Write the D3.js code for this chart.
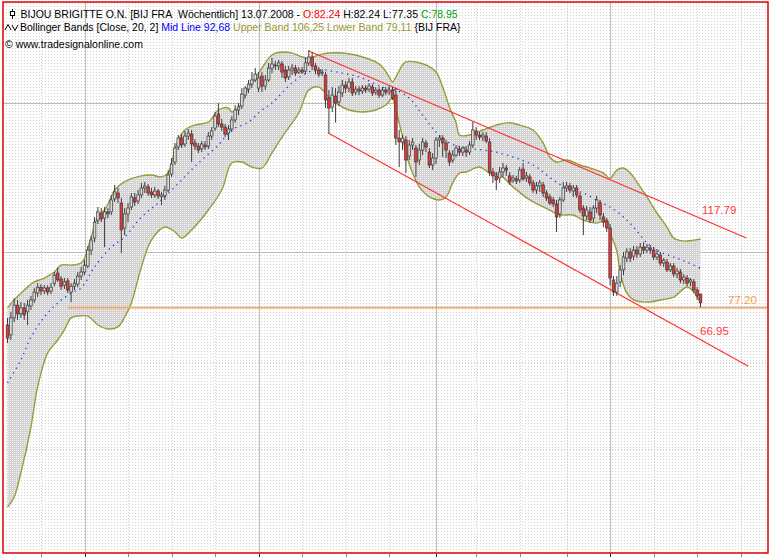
<!DOCTYPE html>
<html><head><meta charset="utf-8">
<script src="https://cdn.jsdelivr.net/npm/d3@7"></script>
<style>html,body{margin:0;padding:0;background:#fff;}svg{display:block}text{white-space:pre}</style>
</head><body>
<svg id="chart" width="770" height="558"></svg>
<script>
// ---------- DATA (weekly bars, BIJOU BRIGITTE, last bar 13.07.2008) ----------
const lastDateStr = "2008-07-13";
const opens = [71.2,68.0,73.6,78.1,75.0,77.1,75.7,77.8,80.0,82.6,
84.9,83.4,84.6,83.4,86.5,90.7,88.2,85.7,87.4,83.0,
85.3,86.1,89.4,91.1,93.7,100.9,106.7,116.0,119.9,117.1,
120.5,120.5,128.0,131.6,125.6,111.8,119.4,123.3,128.6,126.8,
130.4,134.7,135.4,132.2,130.4,132.8,129.2,129.8,133.4,143.7,
152.0,163.0,169.9,165.3,171.5,173.1,166.1,163.7,161.5,164.5,
163.7,171.5,178.0,190.0,181.4,178.8,174.0,177.2,184.8,193.6,
197.2,207.5,213.4,218.4,222.6,214.4,226.7,216.4,222.6,235.3,
238.7,237.6,239.8,233.1,225.8,233.1,235.3,230.9,233.1,232.0,
241.0,247.7,237.6,233.1,229.9,227.8,204.7,196.3,206.5,201.0,
209.5,217.4,214.4,220.5,210.4,213.4,211.4,214.4,213.4,215.4,
210.4,212.4,207.5,212.4,210.4,212.4,207.5,169.9,166.8,168.4,
156.3,164.5,162.2,153.4,160.7,166.1,159.2,149.9,154.8,168.4,
169.9,166.1,158.5,153.4,157.0,161.5,159.2,160.7,159.2,164.5,
175.6,172.3,170.7,171.5,166.8,145.1,142.5,141.1,145.1,147.8,
142.5,139.8,140.5,139.8,147.1,141.1,141.8,137.9,133.4,136.0,
136.6,131.6,129.2,127.4,125.0,119.4,127.4,134.7,136.0,132.8,
134.7,129.8,122.7,118.2,120.5,117.1,122.7,125.6,117.7,115.5,
111.8,87.8,83.0,87.0,92.0,97.2,100.0,98.1,100.9,99.1,
102.3,100.9,101.9,100.9,97.7,98.6,95.0,95.4,92.0,93.7,
90.3,91.1,87.8,88.6,87.0,87.0,83.8,82.24];
const highs = [73.6,75.7,80.7,80.0,79.2,78.9,80.0,81.5,84.6,86.5,
86.1,85.7,85.7,86.5,91.1,92.9,89.4,88.6,88.6,86.5,
88.2,91.1,93.3,96.3,102.8,107.7,117.7,123.3,122.7,123.3,
122.7,130.4,136.6,134.7,128.6,122.7,125.6,131.6,131.6,133.4,
137.9,138.5,137.2,134.7,135.4,134.1,132.2,136.0,146.4,154.8,
166.1,172.3,173.1,175.6,177.2,176.4,169.2,166.1,167.6,167.6,
174.7,178.8,191.9,199.9,185.6,181.4,180.5,188.2,198.1,199.9,
214.4,216.4,222.6,231.0,235.3,231.0,231.0,227.8,240.9,246.6,
243.2,244.3,243.2,237.6,237.6,239.8,238.7,236.4,236.4,246.6,
255.9,253.5,241.0,236.4,234.2,231.0,212.4,215.4,214.4,216.4,
222.6,221.6,224.7,224.7,216.4,216.4,217.4,217.4,219.5,218.4,
215.4,215.4,215.4,215.4,216.4,215.4,214.4,176.4,172.3,171.5,
168.4,169.9,164.5,165.3,169.9,168.4,162.2,158.5,170.7,172.3,
172.3,168.4,160.7,160.7,164.5,163.7,163.7,163.7,167.6,183.1,
178.8,174.7,174.7,174.7,169.9,147.8,145.1,148.5,151.3,149.9,
145.1,143.1,142.5,148.5,151.3,145.1,143.7,139.8,138.5,139.8,
138.5,133.4,130.9,129.2,127.4,129.2,138.5,138.5,137.9,136.6,
136.6,131.6,124.4,123.9,123.3,124.4,129.8,127.4,119.9,117.1,
113.9,89.4,89.4,94.1,100.0,101.8,101.8,102.8,102.8,104.3,
104.7,103.8,103.3,102.3,101.4,100.0,97.2,96.8,95.0,95.0,
92.9,92.4,90.3,89.8,88.6,88.2,84.9,82.24];
const lows = [65.5,66.4,72.2,72.9,73.6,72.9,71.2,76.4,78.9,81.1,
81.8,82.2,81.8,82.2,85.3,87.0,83.8,84.2,82.6,79.2,
83.8,84.9,87.8,89.8,92.8,98.6,104.7,113.9,114.9,102.3,
117.1,118.8,126.2,125.6,99.5,108.2,114.9,121.6,123.9,125.0,
128.6,131.6,129.8,128.6,128.6,128.0,124.4,127.4,132.2,141.8,
149.9,160.7,162.2,163.0,168.4,152.0,160.7,158.5,159.2,160.7,
161.5,168.4,175.6,178.8,175.6,170.7,168.4,174.7,182.5,189.1,
194.5,204.7,209.5,214.4,220.5,210.4,210.4,212.4,220.5,229.9,
233.1,233.1,224.7,220.5,222.6,227.8,226.7,228.8,228.8,228.8,
237.6,233.1,228.8,225.8,226.7,195.4,173.9,191.8,182.5,197.2,
205.6,209.5,210.4,206.5,207.5,207.5,208.5,209.5,210.4,206.5,
207.5,204.7,205.6,207.5,207.5,202.8,164.5,148.5,160.7,144.4,
153.4,160.7,141.8,149.9,157.0,159.2,147.8,146.4,150.6,163.0,
155.6,154.8,149.2,151.3,155.6,156.3,156.3,155.6,157.0,162.2,
168.4,168.4,167.6,166.1,142.5,137.9,133.4,137.9,141.8,142.5,
136.6,137.9,137.2,137.9,139.2,138.5,136.0,131.6,131.0,132.2,
129.2,126.8,124.4,123.3,109.8,117.1,126.2,132.2,131.6,129.2,
128.6,119.9,108.2,116.0,114.4,114.9,119.9,116.0,112.3,109.8,
85.7,81.5,81.5,84.9,89.8,95.4,95.4,96.3,97.2,97.7,
99.1,99.5,99.1,96.3,96.3,93.7,93.3,91.1,91.1,89.0,
88.6,86.5,86.1,85.3,85.3,82.6,80.0,77.35];
const closes = [67.0,73.6,78.1,75.0,77.1,74.6,78.1,80.0,83.0,84.9,
83.4,84.6,83.0,84.9,89.8,87.8,85.3,87.0,83.8,85.3,
86.5,89.4,91.1,94.1,100.9,105.7,114.9,120.5,116.6,120.5,
119.4,127.4,132.2,128.6,110.8,119.4,122.7,129.2,126.2,130.4,
134.7,136.0,131.6,130.4,132.8,129.8,130.4,133.4,143.1,150.6,
162.2,169.9,164.5,171.5,173.9,165.3,163.7,160.7,165.3,163.0,
171.5,175.6,188.2,181.4,178.8,173.1,177.2,184.8,193.6,196.3,
208.5,214.4,218.4,222.6,228.8,224.7,216.4,222.6,235.3,239.8,
237.6,241.0,230.9,224.7,233.1,235.3,229.9,233.1,230.9,241.0,
247.7,237.6,233.1,228.8,230.9,202.8,195.4,207.5,200.0,210.4,
217.4,214.4,220.5,209.5,213.4,211.4,214.4,212.4,216.4,209.5,
212.4,207.5,212.4,210.4,212.4,204.7,169.9,166.8,169.9,153.4,
164.5,166.8,152.0,160.7,166.8,163.0,149.9,154.8,168.4,169.9,
166.1,160.7,152.0,157.0,162.2,159.2,162.2,159.2,164.5,176.4,
172.3,170.7,172.3,167.6,145.1,142.5,139.8,145.1,147.8,146.4,
138.5,141.1,139.2,146.4,140.5,142.5,137.9,133.4,136.0,137.9,
131.6,128.6,125.6,125.0,117.7,127.4,134.7,136.0,133.4,134.7,
130.4,121.6,118.2,121.6,116.0,122.7,127.4,118.8,114.9,111.8,
88.6,83.0,86.5,92.0,97.7,100.0,97.2,100.9,99.1,102.3,
100.9,102.3,100.9,97.7,99.1,95.0,96.3,92.0,93.7,90.3,
91.5,87.8,89.0,86.5,87.8,83.8,81.5,78.95];

// Bollinger bands [bar index, value]
const upperBand = [[0,77.1],[2,80.0],[5,83.8],[8,87.0],[11,88.6],[14,91.1],[16,94.1],[19,94.1],[22,95.0],[23,97.2],[25,107.2],[27,117.7],[29,121.6],[31,129.2],[32,133.4],[36,139.8],[40,142.5],[43,143.1],[46,141.8],[48,144.4],[49,151.3],[51,168.4],[53,176.4],[56,180.5],[60,183.1],[63,193.6],[66,195.4],[67,191.8],[70,199.9],[72,215.4],[73,219.5],[76,235.3],[79,250.0],[82,253.5],[85,252.3],[88,247.7],[90,246.6],[93,250.0],[96,252.3],[100,252.3],[104,250.0],[107,246.6],[110,242.1],[112,236.4],[114,225.8],[115,220.5],[116,225.8],[118,238.7],[119,242.1],[122,242.1],[125,238.7],[128,231.0],[130,215.4],[132,196.3],[134,182.5],[135,172.3],[138,172.3],[142,176.4],[146,180.5],[150,182.5],[154,179.6],[157,176.4],[160,166.1],[162,155.6],[164,152.0],[167,153.4],[171,149.9],[174,147.8],[178,144.4],[180,140.9],[182,146.4],[184,147.8],[186,144.4],[189,135.4],[191,129.2],[194,119.9],[197,112.3],[199,106.7],[202,105.2],[205,105.7],[207,106.25]];
const lowerBand = [[0,30.5],[2,32.0],[4,35.8],[7,44.3],[9,53.4],[12,62.5],[15,66.4],[17,69.6],[19,73.6],[21,74.2],[24,74.2],[27,71.2],[30,69.9],[33,70.6],[35,73.9],[37,78.9],[40,93.3],[43,105.7],[47,112.3],[50,109.8],[52,106.7],[55,110.8],[60,121.6],[64,133.4],[67,151.3],[70,152.0],[73,148.5],[76,147.8],[79,158.5],[82,170.7],[87,190.9],[90,212.4],[93,215.4],[96,205.6],[99,198.1],[102,193.6],[106,191.8],[110,193.6],[113,198.1],[115,204.7],[116,193.6],[118,170.7],[119,158.5],[121,144.4],[123,135.4],[126,129.2],[129,127.4],[131,129.2],[133,137.9],[135,144.4],[137,145.1],[141,148.5],[144,144.4],[147,143.1],[151,135.4],[156,127.4],[160,123.3],[163,120.5],[165,118.8],[169,118.8],[172,116.0],[176,114.4],[179,116.0],[180,109.3],[182,100.5],[183,90.7],[185,82.6],[187,80.0],[191,79.2],[195,80.0],[199,81.1],[203,85.0],[205,83.0],[207,79.11]];
const midLine = [[0,54.4],[4,60.5],[7,67.3],[11,73.9],[15,78.9],[19,82.6],[22,84.6],[26,93.3],[31,102.3],[35,107.2],[40,117.7],[45,125.6],[50,135.4],[54,144.4],[58,153.4],[63,164.5],[67,176.4],[72,183.1],[76,193.6],[79,199.9],[85,219.5],[90,231.0],[94,233.1],[100,229.9],[106,224.7],[112,215.4],[116,212.4],[120,204.7],[124,189.1],[128,174.7],[132,166.1],[137,162.2],[142,160.7],[147,158.5],[157,149.9],[163,139.8],[167,134.7],[172,131.6],[177,126.2],[180,123.3],[184,117.7],[187,112.3],[191,104.3],[195,100.0],[199,97.7],[203,95.4],[207,92.68]];

// Trend channel lines [bar index, price] and their labels
const channelUpper = [[90,254.7],[220.7,106.7]];
const channelLower = [[95.8,174.0],[221.3,58.8]];
const channelLabels = ["117.79","66.95"];
const channelLabelValues = [117.79, 66.95];
const supportLevel = 77.20;
const supportStartIndex = 18;
const supportLabel = "77.20";

// grid price levels
const gridSolid = [100, 200];
const gridDotted = [40, 60];

// header texts
const header1 = [
  ["BIJOU BRIGITTE O.N. [BIJ FRA\u00a0\u00a0Wöchentlich] 13.07.2008 - ", "#000"],
  ["O:82.24", "#ff0000"], [" H:82.24", "#000"], [" L:77.35", "#000"], [" C:78.95", "#00a000"]];
const header2 = [
  ["Bollinger Bands [Close, 20, 2] ", "#000"],
  ["Mid Line 92,68", "#0000ff"],
  [" Upper Band 106,25 Lower Band 79,11", "#999933"],
  [" {BIJ FRA}", "#000"]];
const header3 = "© www.tradesignalonline.com";

// ---------- DRAW ----------
const svg = d3.select("#chart");
const W = 770, H = 558;
const frame = {l: 3, t: 2, r: 768, b: 553};
const N = closes.length;
const FUTURE = 22;
const lastDate = d3.timeParse("%Y-%m-%d")(lastDateStr);
const dates = d3.range(N + FUTURE).map(i => d3.timeWeek.offset(lastDate, i - (N - 1)));

const x = d3.scaleLinear().domain([0, N - 1]).range([7.5, 700.5]);
const y = d3.scaleLog().domain([25, 200]).range([550, 103]);

const defs = svg.append("defs");
const bgPat = defs.append("pattern").attr("id", "bgp").attr("patternUnits", "userSpaceOnUse")
  .attr("width", 3).attr("height", 3);
bgPat.append("rect").attr("width", 3).attr("height", 3).attr("fill", "#ffffff");
bgPat.append("rect").attr("width", 1).attr("height", 1).attr("fill", "#d4d4d4");
const bandPat = defs.append("pattern").attr("id", "bandp").attr("patternUnits", "userSpaceOnUse")
  .attr("width", 2).attr("height", 2);
bandPat.append("rect").attr("width", 2).attr("height", 2).attr("fill", "#d2d2d2");
bandPat.append("rect").attr("width", 1).attr("height", 1).attr("fill", "#f2f2f2");
defs.append("clipPath").attr("id", "clip").append("rect")
  .attr("x", frame.l).attr("y", frame.t).attr("width", frame.r - frame.l).attr("height", frame.b - frame.t);

svg.append("rect").attr("width", W).attr("height", H).attr("fill", "#fff");
svg.append("rect").attr("x", frame.l).attr("y", frame.t).attr("width", frame.r - frame.l)
  .attr("height", frame.b - frame.t).attr("fill", "url(#bgp)");

const g = svg.append("g").attr("clip-path", "url(#clip)");

// time grid
const yearIdx = [], quarterIdx = [];
dates.forEach((d, i) => {
  if (i === 0) return;
  const m = d.getMonth(), pm = dates[i - 1].getMonth();
  if (m !== pm && m % 3 === 0) { quarterIdx.push(i); if (m === 0) yearIdx.push(i); }
});
g.selectAll(".qgrid").data(quarterIdx.filter(i => !yearIdx.includes(i))).join("line")
  .attr("x1", d => Math.round(x(d)) + 0.5).attr("x2", d => Math.round(x(d)) + 0.5)
  .attr("y1", frame.t).attr("y2", frame.b)
  .attr("stroke", "#c9d3c9").attr("stroke-width", 1).attr("stroke-dasharray", "1,2");
g.selectAll(".ygrid").data(yearIdx).join("line")
  .attr("x1", d => Math.round(x(d)) + 0.5).attr("x2", d => Math.round(x(d)) + 0.5)
  .attr("y1", frame.t).attr("y2", frame.b)
  .attr("stroke", "#b3c4b3").attr("stroke-width", 1);
g.selectAll(".hgrid").data(gridSolid).join("line")
  .attr("x1", frame.l).attr("x2", frame.r)
  .attr("y1", d => Math.round(y(d)) + 0.5).attr("y2", d => Math.round(y(d)) + 0.5)
  .attr("stroke", "#b3c4b3").attr("stroke-width", 1);
g.selectAll(".hgridd").data(gridDotted).join("line")
  .attr("x1", frame.l).attr("x2", frame.r)
  .attr("y1", d => Math.round(y(d)) + 0.5).attr("y2", d => Math.round(y(d)) + 0.5)
  .attr("stroke", "#c3cdc3").attr("stroke-width", 1).attr("stroke-dasharray", "1,2");

// Bollinger band fill + outlines
const lineGen = d3.line().x(d => x(d[0])).y(d => y(d[1])).curve(d3.curveCatmullRom.alpha(0.5));
const upPath = lineGen(upperBand);
const loRevPath = lineGen(lowerBand.slice().reverse());
g.append("path").attr("d", upPath + "L" + loRevPath.slice(1) + "Z").attr("fill", "url(#bandp)");
g.append("path").attr("d", upPath).attr("fill", "none").attr("stroke", "#9a9a38").attr("stroke-width", 1.4);
g.append("path").attr("d", lineGen(lowerBand)).attr("fill", "none").attr("stroke", "#9a9a38").attr("stroke-width", 1.4);
g.append("path").attr("d", lineGen(midLine)).attr("fill", "none").attr("stroke", "#2a2aff")
  .attr("stroke-width", 1.3).attr("stroke-dasharray", "1.3,4.2");

// support line
g.append("line").attr("x1", x(supportStartIndex)).attr("x2", frame.r)
  .attr("y1", y(supportLevel)).attr("y2", y(supportLevel))
  .attr("stroke", "#f4a460").attr("stroke-width", 1.6);

// channel lines
[channelUpper, channelLower].forEach(c => {
  g.append("line").attr("x1", x(c[0][0])).attr("y1", y(c[0][1]))
    .attr("x2", x(c[1][0])).attr("y2", y(c[1][1]))
    .attr("stroke", "#ff3030").attr("stroke-width", 1.2);
});

// candles
const bars = d3.range(N).map(i => ({i, o: opens[i], h: highs[i], l: lows[i], c: closes[i]}));
const bw = 2.6;
g.selectAll(".wick").data(bars).join("line")
  .attr("x1", d => x(d.i)).attr("x2", d => x(d.i))
  .attr("y1", d => y(d.h)).attr("y2", d => y(d.l))
  .attr("stroke", "#3c3c3c").attr("stroke-width", 1);
g.selectAll(".body").data(bars).join("rect")
  .attr("x", d => x(d.i) - bw / 2).attr("width", bw)
  .attr("y", d => y(Math.max(d.o, d.c)))
  .attr("height", d => Math.max(1, Math.abs(y(d.o) - y(d.c))))
  .attr("fill", d => d.c < d.o ? "#ee3434" : "#dadada")
  .attr("stroke", "#383838").attr("stroke-width", 0.7);

// labels
const lbl = svg.append("g").attr("font-family", "'Liberation Sans', Arial, sans-serif").attr("font-size", "11.5px");
lbl.append("text").attr("x", x(N - 1) + 1.5).attr("y", y(channelLabelValues[0]) - 2.5)
  .attr("fill", "#ff3b3b").text(channelLabels[0]);
lbl.append("text").attr("x", x(N - 1) - 0.5).attr("y", y(channelLabelValues[1]) - 3)
  .attr("fill", "#ff3b3b").text(channelLabels[1]);
lbl.append("text").attr("x", 728).attr("y", y(supportLevel) - 4)
  .attr("fill", "#f4a050").text(supportLabel);

// header
const hdr = svg.append("g").attr("font-family", "'Liberation Sans', Arial, sans-serif")
  .attr("font-size", "10.5px");
const t1 = hdr.append("text").attr("x", 20.5).attr("y", 17.5).attr("xml:space", "preserve");
header1.forEach(s => t1.append("tspan").attr("fill", s[1]).text(s[0]));
const t2 = hdr.append("text").attr("x", 20).attr("y", 31).attr("xml:space", "preserve");
header2.forEach(s => t2.append("tspan").attr("fill", s[1]).text(s[0]));
hdr.append("text").attr("x", 5).attr("y", 47.5).attr("fill", "#000").text(header3);
// header icons
hdr.append("line").attr("x1", 12.5).attr("x2", 12.5).attr("y1", 9).attr("y2", 19).attr("stroke", "#000");
hdr.append("rect").attr("x", 10.5).attr("y", 11.5).attr("width", 4).attr("height", 4)
  .attr("fill", "#fff").attr("stroke", "#000").attr("stroke-width", 1);
hdr.append("path").attr("d", "M5,30 L8,24.5 L11,30 M12,25 L15,30.5 L18,25")
  .attr("fill", "none").attr("stroke", "#000").attr("stroke-width", 1);

// bottom ticks
svg.selectAll(".tick").data(quarterIdx).join("line")
  .attr("x1", d => Math.round(x(d)) + 0.5).attr("x2", d => Math.round(x(d)) + 0.5)
  .attr("y1", frame.b + 1).attr("y2", frame.b + 4)
  .attr("stroke", d => yearIdx.includes(d) ? "#222" : "#888").attr("stroke-width", 1);

// frame
svg.append("rect").attr("x", frame.l).attr("y", frame.t)
  .attr("width", frame.r - frame.l).attr("height", frame.b - frame.t)
  .attr("fill", "none").attr("stroke", "#e00000").attr("stroke-width", 1.5);
</script>
</body></html>
